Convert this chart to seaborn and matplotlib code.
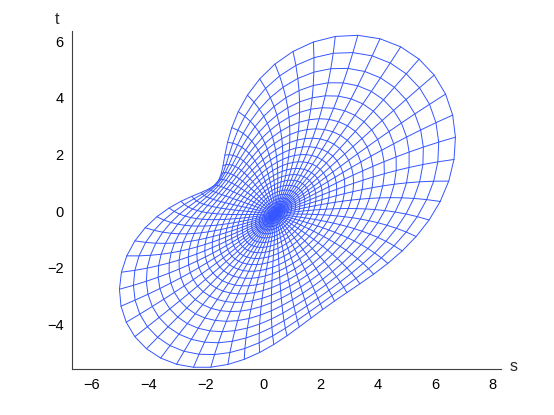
import numpy as np
import pandas as pd
import seaborn as sns
import matplotlib.pyplot as plt

# Paramètres du maillage polaire
n_rings = 27        # nombre de cercles
n_spokes = 60       # nombre de rayons
ring_power = 2.0    # espacement des cercles (plus serré au centre)

# Coefficients de l'application du disque vers le plan (s, t)
center = (0.42, -0.1)
alpha_deg = 45.0
coef_z = 4.95       # terme z
coef_zbar = 1.12    # terme conj(z) -> ellipse
coef_z2 = (0.45, 0.7)   # terme z^2 -> asymétrie des lobes
coef_z3 = 0.85      # terme z^3 -> creux (forme de cacahuète)

# Axes
x_limits = (-6.68, 8.32)
y_limits = (-5.58, 6.36)
x_ticks = [-6, -4, -2, 0, 2, 4, 6, 8]
y_ticks = [-4, -2, 0, 2, 4, 6]


def mapping(z):
    a = np.deg2rad(alpha_deg)
    w = (center[0] + 1j * center[1]
         + coef_z * z
         + coef_zbar * np.exp(2j * a) * np.conj(z)
         + (coef_z2[0] + 1j * coef_z2[1]) * np.exp(-1j * a) * z ** 2
         + coef_z3 * np.exp(-2j * a) * z ** 3)
    return w


# Grille (rho, phi) : seulement les noeuds, comme un mesh
rho = (np.arange(n_rings + 1) / n_rings) ** ring_power
phi = np.linspace(0, 2 * np.pi, n_spokes + 1)
R, P = np.meshgrid(rho, phi, indexing="ij")
W = mapping(R * np.exp(1j * P))

# DataFrame long : une ligne par cercle / rayon
rows = []
for k in range(1, n_rings + 1):
    for j in range(n_spokes + 1):
        rows.append((f"c{k}", j, W[k, j].real, W[k, j].imag))
for j in range(n_spokes):
    for k in range(n_rings + 1):
        rows.append((f"r{j}", k, W[k, j].real, W[k, j].imag))
df = pd.DataFrame(rows, columns=["line", "order", "s", "t"])

sns.set_style("white")
plt.rcParams['font.family'] = ['Liberation Sans', 'DejaVu Sans']

fig = plt.figure(figsize=(5.54, 4.15), dpi=100)
ax = fig.add_axes([0.13, 0.11, 0.775, 0.815])

sns.lineplot(data=df, x="s", y="t", units="line", estimator=None, sort=False,
             color="#3555ff", linewidth=0.7, ax=ax, legend=False)

ax.set_xlim(*x_limits)
ax.set_ylim(*y_limits)
ax.set_xticks(x_ticks)
ax.set_yticks(y_ticks)
ax.set_xticklabels([str(v).replace("-", "\u2212") for v in x_ticks])
ax.set_yticklabels([str(v).replace("-", "\u2212") for v in y_ticks])
ax.set_xlabel("")
ax.set_ylabel("")

for side in ["top", "right"]:
    ax.spines[side].set_visible(False)
for side in ["left", "bottom"]:
    ax.spines[side].set_color("#404040")
    ax.spines[side].set_linewidth(0.8)
ax.tick_params(direction="in", length=4, width=0.8, color="#404040",
               labelsize=10.5, labelcolor="black", pad=6)

# Noms des axes aux extrémités, comme sur la figure
ax.text(1.02, 0.008, "s", transform=ax.transAxes, fontsize=11.5,
        ha="left", va="center")
ax.text(-0.03, 1.035, "t", transform=ax.transAxes, fontsize=11.5,
        ha="right", va="center")

fig.savefig("out.png", dpi=100)
